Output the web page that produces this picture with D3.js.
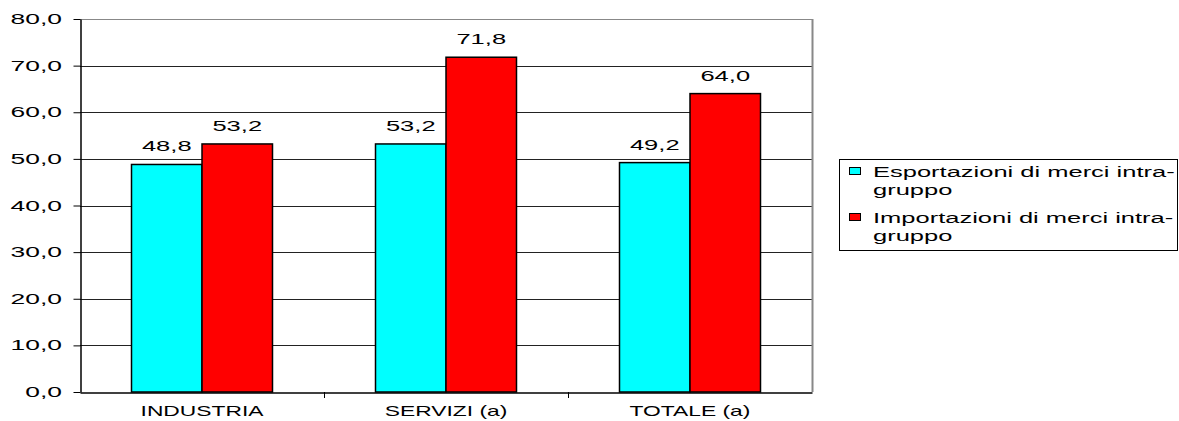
<!DOCTYPE html>
<html><head><meta charset="utf-8">
<script src="https://cdn.jsdelivr.net/npm/d3@7"></script>
<style>body{margin:0;background:#fff}svg{display:block;font-family:"Liberation Sans",Arial,sans-serif}</style>
</head><body><svg id="c" width="1179" height="421"></svg>
<script>
const categories = ["INDUSTRIA", "SERVIZI (a)", "TOTALE (a)"];
const seriesNames = ["Esportazioni di merci intra-gruppo", "Importazioni di merci intra-gruppo"];
const esportazioni = [48.8, 53.2, 49.2];
const importazioni = [53.2, 71.8, 64.0];
const yTicks = [0, 10, 20, 30, 40, 50, 60, 70, 80];
const colors = ["#00FFFF", "#FF0000"];

const SX = 1.7; // horizontal stretch of the original's text
const svg = d3.select("#c");
const m = {l: 80, r: 812, t: 19, b: 392};
const x = d3.scaleBand().domain(categories).range([m.l, m.r]);
const sub = d3.scaleBand().domain([0, 1]).range([0, 141]);
const y = d3.scaleLinear().domain([0, 80]).range([m.b, m.t]);
const fmt = v => v.toFixed(1).replace(".", ",");

function stext(parent, tx, ty, str, size, anchor, sx) {
  return parent.append("text")
    .attr("transform", `translate(${tx},${ty}) scale(${sx || SX},1)`)
    .attr("text-anchor", anchor || "start").attr("font-size", size)
    .attr("fill", "#000").text(str);
}

// gridlines
svg.append("g").selectAll("line").data(yTicks.slice(1)).join("line")
  .attr("x1", m.l).attr("x2", m.r)
  .attr("y1", d => Math.round(y(d)) + 0.5).attr("y2", d => Math.round(y(d)) + 0.5)
  .attr("stroke", d => d === 80 ? "#888" : "#222").attr("stroke-width", 1);
// right border
svg.append("line").attr("x1", m.r + 0.5).attr("x2", m.r + 0.5).attr("y1", m.t).attr("y2", m.b)
  .attr("stroke", "#888").attr("stroke-width", 2);

// bars
const data = categories.map((c, i) => ({c, vals: [esportazioni[i], importazioni[i]]}));
const g = svg.append("g").selectAll("g").data(data).join("g")
  .attr("transform", d => `translate(${x(d.c) + x.bandwidth() / 2 - 70.5},0)`);
g.selectAll("rect").data(d => d.vals.map((v, k) => ({v, k}))).join("rect")
  .attr("x", d => sub(d.k)).attr("width", sub.bandwidth())
  .attr("y", d => y(d.v)).attr("height", d => y(0) - y(d.v))
  .attr("fill", d => colors[d.k]).attr("stroke", "#000").attr("stroke-width", 1.5);
g.each(function(d) {
  const gg = d3.select(this);
  d.vals.forEach((v, k) => stext(gg, sub(k) + sub.bandwidth() / 2, y(v) - 13, fmt(v), 15, "middle"));
});

// y axis
const ya = svg.append("g").attr("transform", `translate(${m.l + 0.5},0)`)
  .call(d3.axisLeft(y).tickValues(yTicks).tickFormat(fmt).tickSize(7).tickSizeOuter(0));
ya.select(".domain").attr("stroke", "#000").attr("stroke-width", 1.5);
ya.selectAll(".tick line").attr("stroke", "#000");
ya.selectAll(".tick text").remove();
yTicks.forEach(t => stext(svg, 62, y(t) + 5, fmt(t), 15, "end", 1.76));

// x axis
const xa = svg.append("g").attr("transform", `translate(0,${m.b + 0.5})`)
  .call(d3.axisBottom(x).tickSize(0).tickSizeOuter(0));
xa.select(".domain").attr("stroke", "#000").attr("stroke-width", 1.5);
xa.selectAll(".tick text").remove();
categories.forEach(c => stext(svg, x(c) + x.bandwidth() / 2, 416, c, 14, "middle", 1.63));
// category separator ticks
svg.append("g").selectAll("line").data(categories.slice(1)).join("line")
  .attr("x1", d => Math.round(x(d)) + 0.5).attr("x2", d => Math.round(x(d)) + 0.5)
  .attr("y1", m.b).attr("y2", m.b + 6).attr("stroke", "#000");

// legend
const lg = svg.append("g");
lg.append("rect").attr("x", 839.5).attr("y", 159.5).attr("width", 338).attr("height", 91)
  .attr("fill", "#fff").attr("stroke", "#000");
const legendLines = [["Esportazioni di merci intra-", "gruppo"], ["Importazioni di merci intra-", "gruppo"]];
legendLines.forEach((ls, i) => {
  const y0 = 177 + i * 46;
  lg.append("rect").attr("x", 849.5).attr("y", y0 - 9.5).attr("width", 11).attr("height", 7)
    .attr("fill", colors[i]).attr("stroke", "#000");
  ls.forEach((t, j) => stext(lg, 873, y0 + j * 18, t, 15, "start", 1.7));
});
</script></body></html>
